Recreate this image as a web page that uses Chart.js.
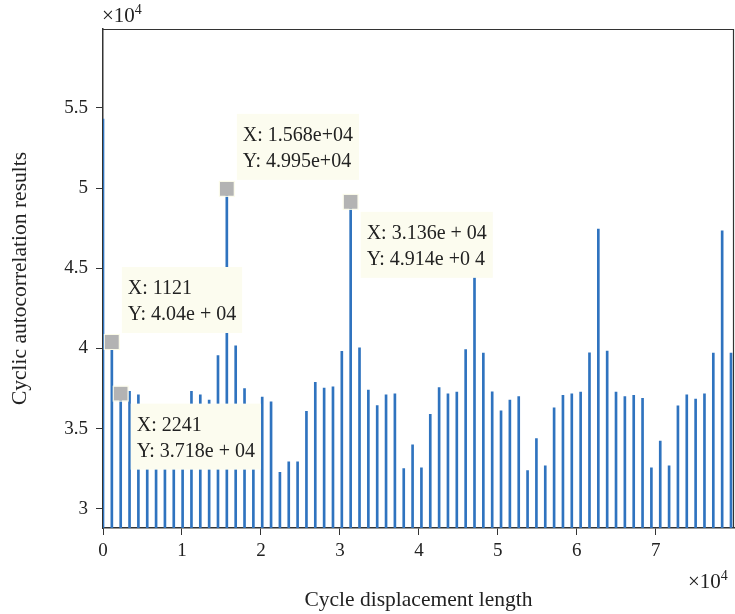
<!DOCTYPE html>
<html>
<head>
<meta charset="utf-8">
<script src="https://cdn.jsdelivr.net/npm/chart.js@4.4.1/dist/chart.umd.min.js"></script>
<style>
  html, body { margin: 0; padding: 0; background: #fff; }
  #graf { display: block; }
</style>
</head>
<body>
<canvas id="graf" width="735" height="614"></canvas>
<script>
// lags (samples) where the autocorrelation peaks
const desplazamientos = [
  0, 1121, 2241, 3361, 4481, 5601, 6721, 7841, 8961, 10081,
  11201, 12321, 13441, 14561, 15680, 16801, 17921, 19041, 20161, 21281,
  22401, 23521, 24641, 25761, 26881, 28001, 29121, 30241, 31360, 32481,
  33601, 34721, 35841, 36961, 38081, 39201, 40321, 41441, 42561, 43681,
  44801, 45921, 47041, 48161, 49281, 50401, 51521, 52641, 53761, 54881,
  56001, 57121, 58241, 59361, 60481, 61601, 62721, 63841, 64961, 66081,
  67201, 68321, 69441, 70561, 71681, 72801, 73921, 75041, 76161, 77281,
  78401, 79521
];
// peak heights
const resultados = [
  54300, 40400, 37180, 37330, 37110, 36000, 33000, 34200, 33000, 36000,
  37330, 37110, 36780, 39560, 49950, 40160, 37490, 36200, 36960, 36670,
  32270, 32930, 32930, 36070, 37890, 37530, 37600, 39820, 49140, 40040,
  37400, 36440, 37110, 37160, 32510, 33980, 32560, 35890, 37560, 37160,
  37270, 39930, 44440, 39710, 37290, 36110, 36780, 37000, 32380, 34380,
  32670, 36290, 37070, 37160, 37270, 39730, 47440, 39840, 37270, 37000,
  37070, 36890, 32560, 34220, 32670, 36420, 37110, 36840, 37160, 39710,
  47330, 39710
];
const xTicks = [0, 10000, 20000, 30000, 40000, 50000, 60000, 70000];
const yTicks = [30000, 35000, 40000, 45000, 50000, 55000];

// data tips (index into the arrays above)
const etiquetas = [
  { i: 1,  lineas: ['X: 1121', 'Y: 4.04e + 04'], arriba: true },
  { i: 2,  lineas: ['X: 2241', 'Y: 3.718e + 04'], arriba: false },
  { i: 14, lineas: ['X: 1.568e+04', 'Y: 4.995e+04'], arriba: true },
  { i: 28, lineas: ['X: 3.136e + 04', 'Y: 4.914e +0 4'], arriba: false }
];

const familia = '"Liberation Serif", "DejaVu Serif", serif';
const fuente = { family: familia, size: 19 };
const fuenteTitulo = { family: familia, size: 21.5 };
const tinta = '#222';

const marco = {
  id: 'marco',
  afterDatasetsDraw(chart) {
    const ctx = chart.ctx;
    const a = chart.chartArea;
    const sx = chart.scales.x, sy = chart.scales.y;
    ctx.save();
    // top and right border
    ctx.strokeStyle = '#333';
    ctx.lineWidth = 1.2;
    ctx.beginPath();
    ctx.moveTo(a.left, a.top + 0.5);
    ctx.lineTo(a.right - 0.5, a.top + 0.5);
    ctx.lineTo(a.right - 0.5, a.bottom);
    ctx.stroke();

    // data tips
    ctx.font = '20px ' + familia;
    ctx.textBaseline = 'middle';
    ctx.textAlign = 'left';
    etiquetas.forEach(e => {
      const mx = sx.getPixelForValue(desplazamientos[e.i]);
      const my = sy.getPixelForValue(resultados[e.i]);
      const w = Math.max(...e.lineas.map(t => ctx.measureText(t).width)) + 12;
      const h = 66;
      const bx = mx + 10;
      const by = e.arriba ? my - 9 - h : my + 10;
      ctx.fillStyle = '#fcfcef';
      ctx.fillRect(bx, by, w, h);
      ctx.fillStyle = tinta;
      ctx.fillText(e.lineas[0], bx + 6, by + 22);
      ctx.fillText(e.lineas[1], bx + 6, by + 48);
      // marker
      ctx.fillStyle = '#b3b3b3';
      ctx.strokeStyle = '#fbfbe8';
      ctx.lineWidth = 1;
      ctx.fillRect(mx - 7, my - 7, 14, 14);
      ctx.strokeRect(mx - 7.5, my - 7.5, 15, 15);
    });

    // exponent labels
    const exponente = (x, y) => {
      ctx.fillStyle = tinta;
      ctx.textBaseline = 'alphabetic';
      ctx.font = '21px ' + familia;
      ctx.fillText('×10', x, y);
      const w = ctx.measureText('×10').width;
      ctx.font = '14px ' + familia;
      ctx.fillText('4', x + w, y - 8);
    };
    exponente(a.left - 1, a.top - 7);
    exponente(a.right - 46, 588);
    ctx.restore();
  }
};

const ctx = document.querySelector('#graf').getContext('2d');
const graf = new Chart(ctx, {
  type: 'bar',
  data: {
    datasets: [{
      data: desplazamientos.map((d, k) => ({ x: d, y: resultados[k] })),
      backgroundColor: '#2f73bf',
      borderWidth: 0,
      barThickness: 2,
      grouped: false
    }]
  },
  options: {
    responsive: false,
    animation: false,
    devicePixelRatio: 1,
    layout: { padding: { top: 29, right: 1, left: 0, bottom: 0 } },
    plugins: { legend: { display: false }, tooltip: { enabled: false } },
    scales: {
      x: {
        type: 'linear',
        min: 0, max: 79900,
        offset: false,
        grid: { offset: false, drawOnChartArea: false, tickLength: 7, color: '#333' },
        border: { color: '#333', width: 1.5 },
        afterBuildTicks: s => { s.ticks = xTicks.map(v => ({ value: v })); },
        ticks: { callback: v => v / 10000, font: fuente, color: tinta, padding: 5, maxRotation: 0 },
        title: { display: true, text: 'Cycle displacement length', font: fuenteTitulo, color: tinta, padding: { top: 0, bottom: 1 } },
        afterFit: s => { s.height = 86; }
      },
      y: {
        min: 28800, max: 59920,
        grid: { drawOnChartArea: false, tickLength: 7, color: '#333' },
        border: { color: '#333', width: 1.5 },
        afterBuildTicks: s => { s.ticks = yTicks.map(v => ({ value: v })); },
        ticks: { callback: v => v / 10000, font: fuente, color: tinta, padding: 8 },
        title: { display: true, text: 'Cyclic autocorrelation results', font: fuenteTitulo, color: tinta, padding: { top: 7, bottom: 0 } },
        afterFit: s => { s.width = 103; }
      }
    }
  },
  plugins: [marco]
});
</script>
</body>
</html>
